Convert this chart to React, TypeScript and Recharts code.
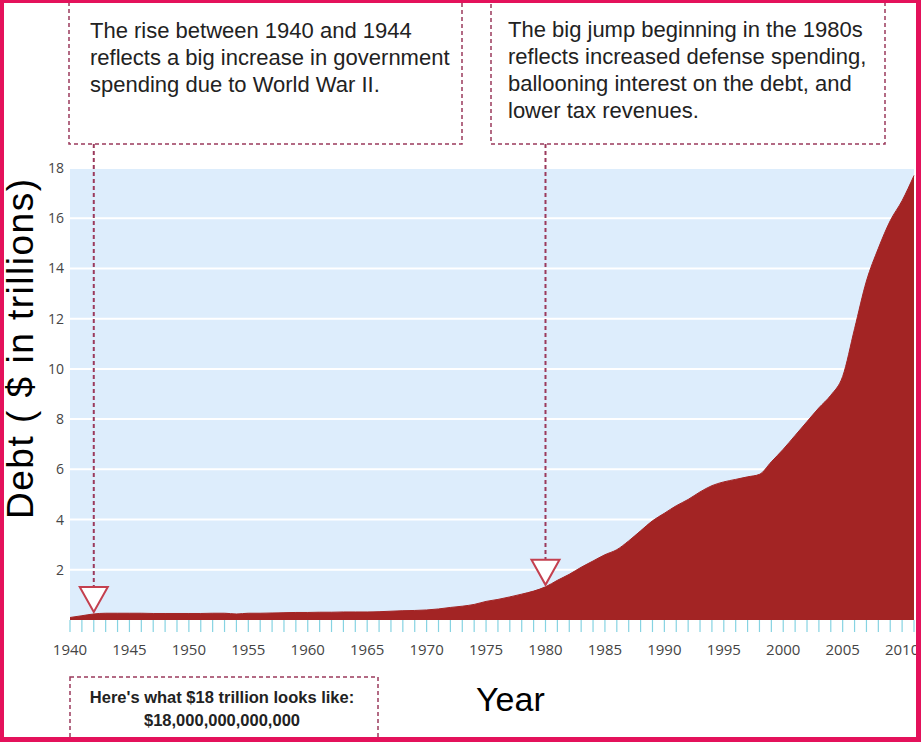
import { AreaChart, Area, XAxis, YAxis, CartesianGrid, ReferenceDot } from 'recharts';

// national debt, $ trillions, one value per year
const years = [
  1940, 1941, 1942, 1943, 1944, 1945, 1946, 1947, 1948, 1949,
  1950, 1951, 1952, 1953, 1954, 1955, 1956, 1957, 1958, 1959,
  1960, 1961, 1962, 1963, 1964, 1965, 1966, 1967, 1968, 1969,
  1970, 1971, 1972, 1973, 1974, 1975, 1976, 1977, 1978, 1979,
  1980, 1981, 1982, 1983, 1984, 1985, 1986, 1987, 1988, 1989,
  1990, 1991, 1992, 1993, 1994, 1995, 1996, 1997, 1998, 1999,
  2000, 2001, 2002, 2003, 2004, 2005, 2006, 2007, 2008, 2009,
  2010, 2011,
];

const debt = [
  0.1, 0.17, 0.24, 0.27, 0.27, 0.27, 0.27, 0.26, 0.26, 0.26,
  0.26, 0.26, 0.27, 0.27, 0.24, 0.27, 0.27, 0.28, 0.29, 0.3,
  0.3, 0.31, 0.31, 0.32, 0.32, 0.32, 0.33, 0.35, 0.37, 0.38,
  0.4, 0.44, 0.5, 0.55, 0.62, 0.74, 0.82, 0.92, 1.03, 1.15,
  1.32, 1.58, 1.82, 2.1, 2.35, 2.6, 2.8, 3.15, 3.55, 3.95,
  4.25, 4.55, 4.8, 5.1, 5.35, 5.5, 5.6, 5.7, 5.8, 6.3,
  6.8, 7.35, 7.9, 8.45, 8.95, 9.7, 11.6, 13.5, 14.8, 15.9,
  16.7, 17.7,
];

const yTicks = [2, 4, 6, 8, 10, 12, 14, 16, 18];
const labeledYears = [1940, 1945, 1950, 1955, 1960, 1965, 1970, 1975, 1980, 1985, 1990, 1995, 2000, 2005, 2010];

// years the two notes point at
const noteYears = [1942, 1980];

const noteLeft = [
  'The rise between 1940 and 1944',
  'reflects a big increase in government',
  'spending due to World War II.',
];
const noteRight = [
  'The big jump beginning in the 1980s',
  'reflects increased defense spending,',
  'ballooning interest on the debt, and',
  'lower tax revenues.',
];
const noteBottom = ["Here's what $18 trillion looks like:", '$18,000,000,000,000'];

const data = years.map((year, i) => ({ year, debt: debt[i] }));

const W = 921;
const H = 742;
const BOX_BOTTOM = 144;
const DASH = '#9b3a5c';
const SANS = 'Liberation Sans, Arial, sans-serif';

function YearTick(props: any) {
  const { x, y, payload } = props;
  if (!labeledYears.includes(payload.value)) return <g />;
  return (
    <text x={x} y={y} dy={21} textAnchor="middle" fill="#454545" fontSize={15} fontFamily="Open Sans">
      {payload.value}
    </text>
  );
}

function DebtTick(props: any) {
  const { x, y, payload } = props;
  return (
    <text x={x + 2} y={y} dy={5} textAnchor="end" fill="#454545" fontSize={14} fontFamily="Open Sans">
      {payload.value}
    </text>
  );
}

function NoteMarker(props: any) {
  const { cx, cy } = props;
  const tip = cy - 2;
  const top = tip - 25;
  return (
    <g>
      <line x1={cx} y1={BOX_BOTTOM} x2={cx} y2={top} stroke={DASH} strokeWidth={2} strokeDasharray="4 3" />
      <polygon
        points={`${cx - 14},${top} ${cx + 14},${top} ${cx},${tip}`}
        fill="#fff"
        stroke="#c4404f"
        strokeWidth={2}
      />
    </g>
  );
}

export default function App() {
  return (
    <div style={{ position: 'absolute', left: 0, top: 0, width: W, height: H, background: '#fff', overflow: 'hidden' }}>
      <AreaChart width={W} height={H} data={data} margin={{ top: 168, right: 7, left: 0, bottom: 82 }}>
        <CartesianGrid vertical={false} stroke="#fff" strokeWidth={2} fill="#ddedfc" />
        <XAxis
          dataKey="year"
          type="number"
          domain={[1940, 2011]}
          ticks={years}
          interval={0}
          axisLine={false}
          tickLine={{ stroke: '#86d3e2', strokeWidth: 1.2 }}
          tickSize={12}
          tickMargin={2}
          height={40}
          tick={<YearTick />}
        />
        <YAxis
          type="number"
          domain={[0, 18]}
          ticks={yTicks}
          axisLine={false}
          tickLine={false}
          width={70}
          tick={<DebtTick />}
        />
        <Area
          type="monotone"
          dataKey="debt"
          stroke="#a32424"
          strokeWidth={1}
          fill="#a32424"
          fillOpacity={1}
          isAnimationActive={false}
        />
        {noteYears.map((yr) => (
          <ReferenceDot
            key={yr}
            x={yr}
            y={debt[years.indexOf(yr)]}
            r={0}
            ifOverflow="visible"
            shape={<NoteMarker />}
          />
        ))}
      </AreaChart>

      <svg width={W} height={H} style={{ position: 'absolute', left: 0, top: 0, pointerEvents: 'none' }}>
        <g fill="none" stroke={DASH} strokeWidth={1.5} strokeDasharray="4 3">
          <rect x={69} y={-10} width={393} height={154} />
          <rect x={491} y={-10} width={394} height={154} />
          <rect x={70} y={677} width={308} height={100} />
        </g>
        <g fontFamily={SANS} fontSize={22} fill="#222">
          {noteLeft.map((t, i) => (
            <text key={t} x={90} y={38 + i * 27}>{t}</text>
          ))}
          {noteRight.map((t, i) => (
            <text key={t} x={508} y={37 + i * 27}>{t}</text>
          ))}
        </g>
        <g fontFamily={SANS} fontSize={16.5} fontWeight="bold" fill="#222" textAnchor="middle">
          {noteBottom.map((t, i) => (
            <text key={t} x={222} y={703 + i * 23}>{t}</text>
          ))}
        </g>
        <text
          transform="translate(33,349) rotate(-90)"
          textAnchor="middle"
          fontFamily={SANS}
          fontSize={37}
          textLength={340}
          lengthAdjust="spacing"
          fill="#000"
        >
          Debt ( $ in trillions)
        </text>
        <text x={476} y={711} fontFamily={SANS} fontSize={34} fill="#000">
          Year
        </text>
      </svg>

      <div
        style={{
          position: 'absolute',
          inset: 0,
          boxSizing: 'border-box',
          borderStyle: 'solid',
          borderColor: '#e4115b',
          borderWidth: '3px 5px 5px 4px',
          pointerEvents: 'none',
        }}
      />
    </div>
  );
}
